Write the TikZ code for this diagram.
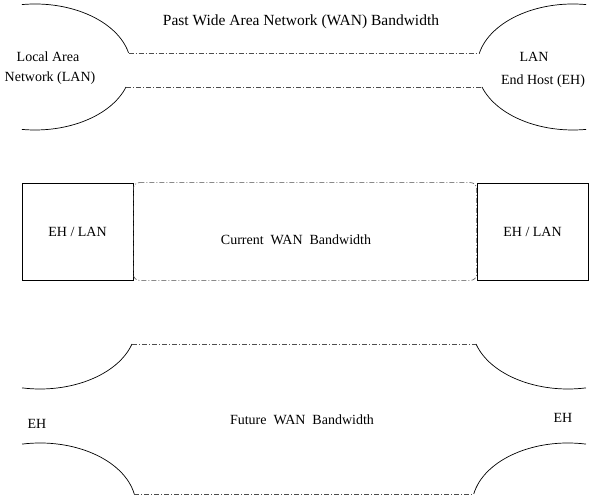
\documentclass[tikz,border=0pt]{standalone}
\usepackage{fontspec}
\setmainfont{Liberation Serif}
\usetikzlibrary{positioning}

\begin{document}
\begin{tikzpicture}[
    x=1pt, y=1pt,
    label/.style={font=\fontsize{14}{16}\selectfont, inner sep=0pt},
    edge/.style={line width=0.7pt},
    wan/.style={line width=0.6pt, black!70, dash pattern=on 5pt off 2pt on 1pt off 2pt},
    host/.style={draw, line width=0.7pt, minimum width=111pt, minimum height=97pt, inner sep=0pt, font=\fontsize{14}{16}\selectfont},
]
    \useasboundingbox (0,0) rectangle (592,497);

    % Past WAN
    \draw[edge] (35,430) ++(97.8:96 and 63) arc[start angle=97.8, end angle=13, x radius=96, y radius=63] coordinate (pastLT);
    \draw[edge] (35,430) ++(-97.8:96 and 63) arc[start angle=-97.8, end angle=-18.5, x radius=96, y radius=63] coordinate (pastLB);
    \draw[edge] (573,430) ++(82.2:96 and 63) arc[start angle=82.2, end angle=167, x radius=96, y radius=63] coordinate (pastRT);
    \draw[edge] (573,430) ++(277.8:96 and 63) arc[start angle=277.8, end angle=198.5, x radius=96, y radius=63] coordinate (pastRB);
    \draw[wan] (pastLT) -- (pastRT);
    \draw[wan] (pastLB) -- (pastRB);

    \node[label, font=\fontsize{15.5}{17}\selectfont] (pastTitle) at (301,475) {Past Wide Area Network (WAN) Bandwidth};
    \node[label] (lanL1) at (48,440) {Local Area};
    \node[label] (lanL2) at (50,419) {Network (LAN)};
    \node[label] (lanR1) at (534,440) {LAN};
    \node[label] (lanR2) at (543,416) {End Host (EH)};

    % Current WAN
    \node[host] (ehL) at (77.5,265.5) {EH / LAN};
    \node[host] (ehR) at (532.5,265.5) {EH / LAN};
    \draw[wan, rounded corners=6pt] (ehL.north east) -- (ehR.north west) -- (ehR.south west) -- (ehL.south east) -- cycle;
    \node[label] (curr) at (296,257) {Current\ \ WAN\ \ Bandwidth};

    % Future WAN
    \draw[edge] (40,171) ++(-100.8:96 and 63) arc[start angle=-100.8, end angle=-16.6, x radius=96, y radius=63] coordinate (futLT);
    \draw[edge] (40,-9) ++(100.8:96 and 63) arc[start angle=100.8, end angle=11, x radius=96, y radius=63] coordinate (futLB);
    \draw[edge] (568,171) ++(280.8:96 and 63) arc[start angle=280.8, end angle=196.6, x radius=96, y radius=63] coordinate (futRT);
    \draw[edge] (568,-9) ++(79.2:96 and 63) arc[start angle=79.2, end angle=169, x radius=96, y radius=63] coordinate (futRB);
    \draw[wan] (futLT) -- (futRT);
    \draw[wan] (futLB) -- (futRB);

    \node[label] (futL) at (37,73) {EH};
    \node[label] (futR) at (563,79) {EH};
    \node[label] (fut) at (302,77) {Future\ \ WAN\ \ Bandwidth};
\end{tikzpicture}
\end{document}
